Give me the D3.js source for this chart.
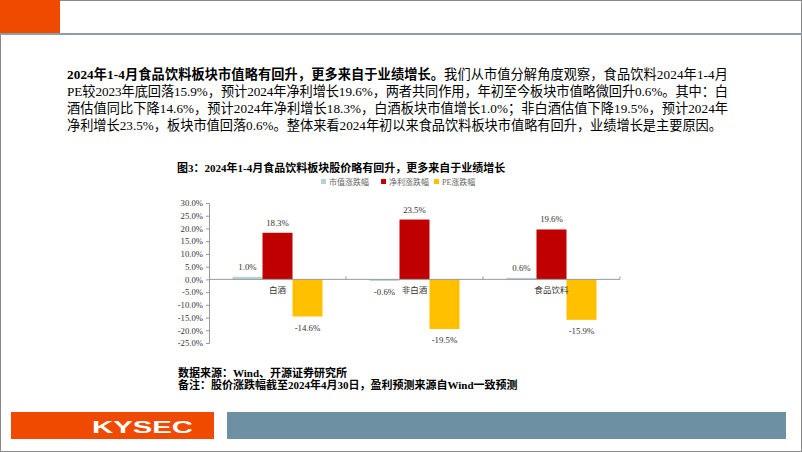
<!DOCTYPE html>
<html><head><meta charset="utf-8">
<script src="https://cdn.jsdelivr.net/npm/d3@7"></script>
<style>
html,body{margin:0;padding:0;background:#fff;}
svg{display:block;}
.serif{font-family:"Liberation Serif","Times New Roman","Noto Sans CJK SC",serif;}
</style></head>
<body>
<svg id="c" width="802" height="452"></svg>
<script>
const categories = ["白酒", "非白酒", "食品饮料"];
const seriesNames = ["市值涨跌幅", "净利涨跌幅", "PE涨跌幅"];
const marketCap = [1.0, -0.6, 0.6];
const netProfit = [18.3, 23.5, 19.6];
const peChange = [-14.6, -19.5, -15.9];
const yTicks = [30, 25, 20, 15, 10, 5, 0, -5, -10, -15, -20, -25];
const colors = ["#b4d3d9", "#c00000", "#ffc000"];

const paraBold = "2024年1-4月食品饮料板块市值略有回升，更多来自于业绩增长。";
const paraLines = [
  "我们从市值分解角度观察，食品饮料2024年1-4月",
  "PE较2023年底回落15.9%，预计2024年净利增长19.6%，两者共同作用，年初至今板块市值略微回升0.6%。其中：白",
  "酒估值同比下降14.6%，预计2024年净利增长18.3%，白酒板块市值增长1.0%；非白酒估值下降19.5%，预计2024年",
  "净利增长23.5%，板块市值回落0.6%。整体来看2024年初以来食品饮料板块市值略有回升，业绩增长是主要原因。"
];
const chartTitle = "图3：2024年1-4月食品饮料板块股价略有回升，更多来自于业绩增长";
const sourceLines = ["数据来源：Wind、开源证券研究所", "备注：股价涨跌幅截至2024年4月30日，盈利预测来源自Wind一致预测"];

const svg = d3.select("#c");

// page frame
svg.append("rect").attr("x",0.5).attr("y",0.5).attr("width",801).attr("height",451)
  .attr("fill","none").attr("stroke","#8a8a8a").attr("stroke-width",1);
svg.append("rect").attr("x",0).attr("y",0).attr("width",60).attr("height",33).attr("fill","#f04a00");
svg.append("rect").attr("x",0).attr("y",33).attr("width",802).attr("height",2).attr("fill","#8a9eab");

// paragraph
const lineY = [79, 96, 113, 130];
const p1 = svg.append("text").attr("class","serif").attr("x",67).attr("y",lineY[0]).attr("font-size",13.2).attr("fill","#000")
  .attr("textLength",661).attr("lengthAdjust","spacing");
p1.append("tspan").attr("font-weight","bold").text(paraBold);
p1.append("tspan").text(paraLines[0]);
for (let i=1;i<4;i++){
  const t = svg.append("text").attr("class","serif").attr("x",67).attr("y",lineY[i]).attr("font-size",13.2).attr("fill","#000").text(paraLines[i]);
  if (i<3) t.attr("textLength",661).attr("lengthAdjust","spacing");
}

// chart title
svg.append("text").attr("class","serif").attr("x",177).attr("y",172).attr("font-size",11).attr("font-weight","bold").attr("fill","#000").text(chartTitle);

// legend
const legX = [321, 381, 434];
seriesNames.forEach((s,i)=>{
  svg.append("rect").attr("x",legX[i]).attr("y",179).attr("width",5).attr("height",5).attr("fill",colors[i]);
  svg.append("text").attr("class","serif").attr("x",legX[i]+8).attr("y",184.5).attr("font-size",8).attr("fill","#666").text(s);
});

// scales
const y = d3.scaleLinear().domain([-25,30]).range([343,203]);
const x0 = d3.scaleBand().domain(categories).range([209,620]).paddingInner(0).paddingOuter(0);
const x1 = d3.scaleBand().domain(seriesNames).range([23.5, 113.5]).padding(0);

const data = categories.map((c,i)=>({cat:c, vals:[marketCap[i], netProfit[i], peChange[i]]}));

// y axis
const yAxis = d3.axisLeft(y).tickValues(yTicks).tickSize(3).tickFormat(d=>d.toFixed(1)+"%");
const ga = svg.append("g").attr("transform","translate(209,0)").call(yAxis);
ga.select(".domain").attr("stroke","#999");
ga.selectAll(".tick line").attr("stroke","#999");
ga.selectAll(".tick text").attr("class","serif").attr("font-size",8.7).attr("fill","#333").attr("x",-6);

// bars
const groups = svg.append("g").selectAll("g").data(data).join("g")
  .attr("transform",d=>`translate(${x0(d.cat)},0)`);
groups.selectAll("rect").data(d=>d.vals.map((v,j)=>({v, s:seriesNames[j], j})))
  .join("rect")
  .attr("x",d=>x1(d.s)).attr("width",x1.bandwidth())
  .attr("y",d=>y(Math.max(0,d.v))).attr("height",d=>Math.abs(y(d.v)-y(0)))
  .attr("fill",d=>colors[d.j]);
groups.selectAll("text.v").data(d=>d.vals.map((v,j)=>({v, s:seriesNames[j], j})))
  .join("text").attr("class","v serif")
  .attr("x",d=>x1(d.s)+x1.bandwidth()/2)
  .attr("y",d=> d.v>=0 ? y(d.v)-7 : y(d.v)+14)
  .attr("text-anchor","middle").attr("font-size",8.8).attr("fill","#333")
  .text(d=>d.v.toFixed(1)+"%");

// zero axis
svg.append("line").attr("x1",209).attr("x2",620).attr("y1",y(0)).attr("y2",y(0)).attr("stroke","#999");
const bounds = categories.map(c=>x0(c)+x0.bandwidth());
svg.selectAll("line.ct").data(bounds).join("line").attr("class","ct")
  .attr("x1",d=>d).attr("x2",d=>d).attr("y1",y(0)-3).attr("y2",y(0)).attr("stroke","#999");
svg.selectAll("text.cat").data(categories).join("text").attr("class","cat serif")
  .attr("x",d=>x0(d)+x0.bandwidth()/2).attr("y",y(0)+14)
  .attr("text-anchor","middle").attr("font-size",8.5).attr("fill","#333").text(d=>d);

// source
sourceLines.forEach((s,i)=>{
  svg.append("text").attr("class","serif").attr("x",178).attr("y",377+i*12).attr("font-size",11).attr("font-weight","bold").attr("fill","#000").text(s);
});

// footer
svg.append("rect").attr("x",11).attr("y",412).attr("width",203).attr("height",27).attr("fill","#f04a00");
svg.append("text").attr("x",92).attr("y",433).attr("font-size",17).attr("font-weight","bold")
  .attr("textLength",101).attr("lengthAdjust","spacingAndGlyphs")
  .style("font-family","Liberation Sans, Arial, sans-serif").attr("fill","#fff").text("KYSEC");
svg.append("rect").attr("x",227).attr("y",412).attr("width",559).attr("height",27).attr("fill","#6e90a3");
</script>
</body></html>
